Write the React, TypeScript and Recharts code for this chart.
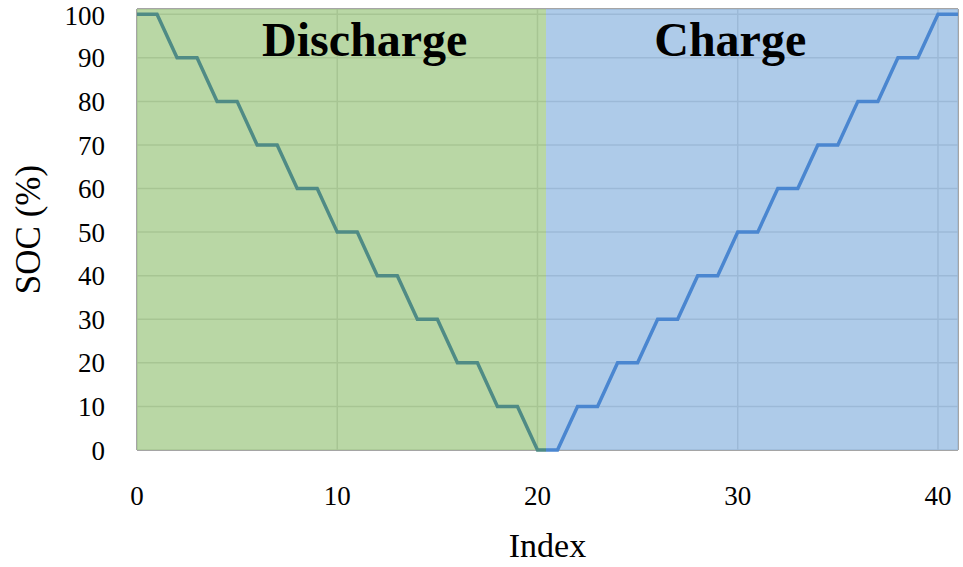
import React from 'react';
import {
  LineChart,
  Line,
  XAxis,
  YAxis,
  CartesianGrid,
  ReferenceArea,
  Label,
} from 'recharts';

// Step profile: SOC held for one index, then moved by 10 %
const INDEX = [
  0, 1, 2, 3, 4, 5, 6, 7, 8, 9, 10, 11, 12, 13, 14, 15, 16, 17, 18, 19, 20,
  21, 22, 23, 24, 25, 26, 27, 28, 29, 30, 31, 32, 33, 34, 35, 36, 37, 38, 39, 40, 41,
];
const SOC = [
  100, 100, 90, 90, 80, 80, 70, 70, 60, 60, 50, 50, 40, 40, 30, 30, 20, 20, 10, 10, 0,
  0, 10, 10, 20, 20, 30, 30, 40, 40, 50, 50, 60, 60, 70, 70, 80, 80, 90, 90, 100, 100,
];
const X_TICKS = [0, 10, 20, 30, 40];
const Y_TICKS = [0, 10, 20, 30, 40, 50, 60, 70, 80, 90, 100];
const PHASES = ['Discharge', 'Charge'];
const SPLIT = 20.45;
const X_MAX = 41;

const data = INDEX.map((i, k) => ({ index: i, soc: SOC[k] }));

const FONT = '"Liberation Serif", "DejaVu Serif", serif';
// shading is slightly see-through so the grid (drawn underneath) shows as darker lines
const GREEN_BG = '#add095';
const BLUE_BG = '#a0c2e5';
const GREEN_LINE = '#4f8b85';
const BLUE_LINE = '#4a86d0';

const phaseLabel = (text: string, dx: number) => (props: any) => {
  const { x, width } = props.viewBox;
  return (
    <text
      x={x + width / 2 + dx}
      y={56}
      textAnchor="middle"
      fontFamily={FONT}
      fontWeight="bold"
      fontSize={48}
      fill="#000"
    >
      {text}
    </text>
  );
};

const App: React.FC = () => {
  const split = SPLIT / X_MAX;
  return (
    <div style={{ position: 'absolute', left: 0, top: 0 }}>
      <LineChart
        width={963}
        height={567}
        data={data}
        margin={{ top: 9, right: 5, bottom: 0, left: 0 }}
      >
        <defs>
          <linearGradient id="socStroke" x1="0" y1="0" x2="1" y2="0">
            <stop offset={split} stopColor={GREEN_LINE} />
            <stop offset={split} stopColor={BLUE_LINE} />
          </linearGradient>
        </defs>
        <CartesianGrid stroke="#878787" strokeWidth={1.5} />
        <ReferenceArea
          x1={0}
          x2={SPLIT}
          y1={0}
          y2={101.2}
          fill={GREEN_BG}
          fillOpacity={0.85}
          stroke="none"
          shapeRendering="crispEdges"
          label={phaseLabel(PHASES[0], 23)}
        />
        <ReferenceArea
          x1={SPLIT}
          x2={X_MAX}
          y1={0}
          y2={101.2}
          fill={BLUE_BG}
          fillOpacity={0.85}
          stroke="none"
          shapeRendering="crispEdges"
          label={phaseLabel(PHASES[1], -22)}
        />
        <XAxis
          dataKey="index"
          type="number"
          domain={[0, X_MAX]}
          ticks={X_TICKS}
          height={117}
          axisLine={false}
          tickLine={false}
          tickSize={0}
          tickMargin={36}
          tick={{ fill: '#000', fontSize: 27, fontFamily: FONT }}
        >
          <Label
            value="Index"
            position="insideBottom"
            offset={10}
            style={{ fill: '#000', fontSize: 34, fontFamily: FONT }}
          />
        </XAxis>
        <YAxis
          type="number"
          domain={[0, 101.2]}
          ticks={Y_TICKS}
          width={137}
          axisLine={false}
          tickLine={false}
          tickSize={0}
          tickMargin={32}
          tick={{ fill: '#000', fontSize: 27, fontFamily: FONT }}
        >
          <Label
            value="SOC (%)"
            angle={-90}
            position="insideLeft"
            offset={28}
            style={{ fill: '#000', fontSize: 35, fontFamily: FONT, textAnchor: 'middle' }}
          />
        </YAxis>
        <Line
          type="linear"
          dataKey="soc"
          stroke="url(#socStroke)"
          strokeWidth={3.5}
          dot={false}
          activeDot={false}
          isAnimationActive={false}
        />
      </LineChart>
    </div>
  );
};

export default App;
